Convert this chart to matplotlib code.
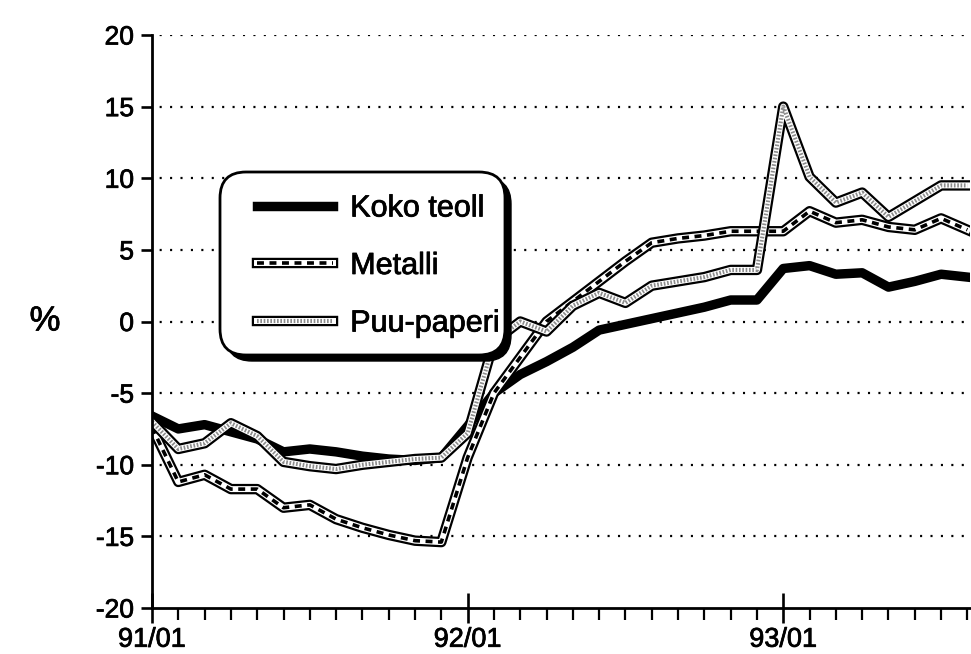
import matplotlib
matplotlib.use('Agg')
import matplotlib.pyplot as plt
import matplotlib.ticker as mticker
import matplotlib.patheffects as pe
from matplotlib.lines import Line2D
from matplotlib.patches import FancyBboxPatch
from matplotlib.legend_handler import HandlerTuple
from matplotlib.transforms import IdentityTransform

plt.rcParams['font.family'] = ['Liberation Sans', 'DejaVu Sans']
plt.rcParams['lines.scale_dashes'] = False

# ---- data (monthly, 91/01 .. 93/08) ----
months = list(range(32))
x_tick_positions = [0, 12, 24]
x_tick_labels = ['91/01', '92/01', '93/01']
y_ticks = [-20, -15, -10, -5, 0, 5, 10, 15, 20]
series_names = ['Koko teoll', 'Metalli', 'Puu-paperi']

koko = [-6.6, -7.5, -7.2, -7.7, -8.2, -9.1, -8.9, -9.1, -9.4, -9.6, -9.7, -9.5,
        -7.3, -5.0, -3.7, -2.8, -1.8, -0.6, -0.2, 0.2, 0.6, 1.0, 1.5, 1.5,
        3.7, 3.9, 3.3, 3.4, 2.4, 2.8, 3.3, 3.1]
metalli = [-7.4, -11.2, -10.7, -11.7, -11.7, -13.0, -12.8, -13.8, -14.4, -14.9, -15.3, -15.4,
           -9.5, -5.0, -2.5, 0.0, 1.4, 2.8, 4.2, 5.5, 5.8, 6.0, 6.3, 6.3,
           6.3, 7.7, 6.9, 7.1, 6.6, 6.4, 7.2, 6.4]
puu = [-7.0, -8.9, -8.5, -7.1, -8.0, -9.8, -10.1, -10.3, -10.0, -9.8, -9.6, -9.5,
       -7.8, -1.4, 0.0, -0.7, 1.1, 2.0, 1.3, 2.5, 2.8, 3.1, 3.6, 3.6,
       15.0, 10.1, 8.3, 9.0, 7.3, 8.4, 9.5, 9.5]

W, H = 971, 654
fig = plt.figure(figsize=(W / 100, H / 100), dpi=100)
ax = fig.add_axes([152 / W, 1 - 608 / H, (970 - 152) / W, (608 - 35) / H])
ax.set_xlim(0, 31.1)
ax.set_ylim(-20, 20)

bold_fx = [pe.withStroke(linewidth=0.55, foreground='black')]

# dotted grid
for yv in y_ticks[1:]:
    ax.axhline(yv, color='black', lw=1.6, linestyle=(2, (1.5, 6)), zorder=1)

OUT_LW = 7.5
IN_LW = 4.3
# Koko teoll
ax.plot(months, koko, color='black', lw=6.8, solid_joinstyle='round', zorder=3)
# Metalli
met_layers = [
    dict(color='black', lw=OUT_LW, solid_joinstyle='round'),
    dict(color='white', lw=IN_LW, solid_joinstyle='round'),
    dict(color='black', lw=2.6, linestyle=(0, (5, 4))),
]
for i, st in enumerate(met_layers):
    ax.plot(months, metalli, zorder=4 + 0.1 * i, **st)
# Puu-paperi
puu_layers = [
    dict(color='black', lw=OUT_LW, solid_joinstyle='round'),
    dict(color='white', lw=IN_LW, solid_joinstyle='round'),
    dict(color='#8c8c8c', lw=3.0, linestyle=(0, (1.2, 1.2))),
]
for i, st in enumerate(puu_layers):
    ax.plot(months, puu, zorder=5 + 0.1 * i, **st)

# axes styling
for s in ['top', 'right']:
    ax.spines[s].set_visible(False)
for s in ['left', 'bottom']:
    ax.spines[s].set_linewidth(2.0)
    ax.spines[s].set_zorder(6)

ax.set_yticks(y_ticks)
ax.set_yticklabels([str(v) for v in y_ticks])
ax.xaxis.set_major_locator(mticker.FixedLocator(x_tick_positions))
ax.xaxis.set_major_formatter(mticker.FixedFormatter(x_tick_labels))
ax.xaxis.set_minor_locator(mticker.MultipleLocator(1))
ax.tick_params(axis='y', which='major', direction='out', length=8, width=1.9,
               pad=5, labelsize=19)
ax.tick_params(axis='x', which='major', direction='inout', length=21, width=1.9,
               pad=3, labelsize=19.5)
ax.tick_params(axis='x', which='minor', direction='out', length=8.5, width=1.6)
for lab in ax.get_xticklabels() + ax.get_yticklabels():
    lab.set_path_effects(bold_fx)

fig.text(45 / W, 1 - 321 / H, '%', fontsize=25, ha='center', va='center',
         path_effects=bold_fx)

# legend box with shadow
bx, by, bw, bh = 220, H - 355, 285, 183
shadow = FancyBboxPatch((bx + 6, by - 6), bw, bh, boxstyle='round,pad=0,rounding_size=26',
                        transform=IdentityTransform(), facecolor='black',
                        edgecolor='black', lw=1, zorder=6)
box = FancyBboxPatch((bx, by), bw, bh, boxstyle='round,pad=0,rounding_size=26',
                     transform=IdentityTransform(), facecolor='white',
                     edgecolor='black', lw=2, zorder=7)
fig.add_artist(shadow)
fig.add_artist(box)

h_koko = Line2D([], [], color='black', lw=6.8)
h_met = tuple(Line2D([], [], **st) for st in met_layers)
h_puu = tuple(Line2D([], [], **st) for st in puu_layers)
leg = fig.legend([h_koko, h_met, h_puu], series_names,
                 handler_map={tuple: HandlerTuple(ndivide=1, pad=0)},
                 loc='center left', bbox_to_anchor=(257 / W, 1 - 266 / H),
                 bbox_transform=fig.transFigure, frameon=False,
                 borderaxespad=0, borderpad=0, fontsize=22,
                 handlelength=2.5, handletextpad=0.55, labelspacing=0.9)
leg.set_zorder(8)
for t in leg.get_texts():
    t.set_path_effects(bold_fx)

fig.savefig('out.png', dpi=100)
